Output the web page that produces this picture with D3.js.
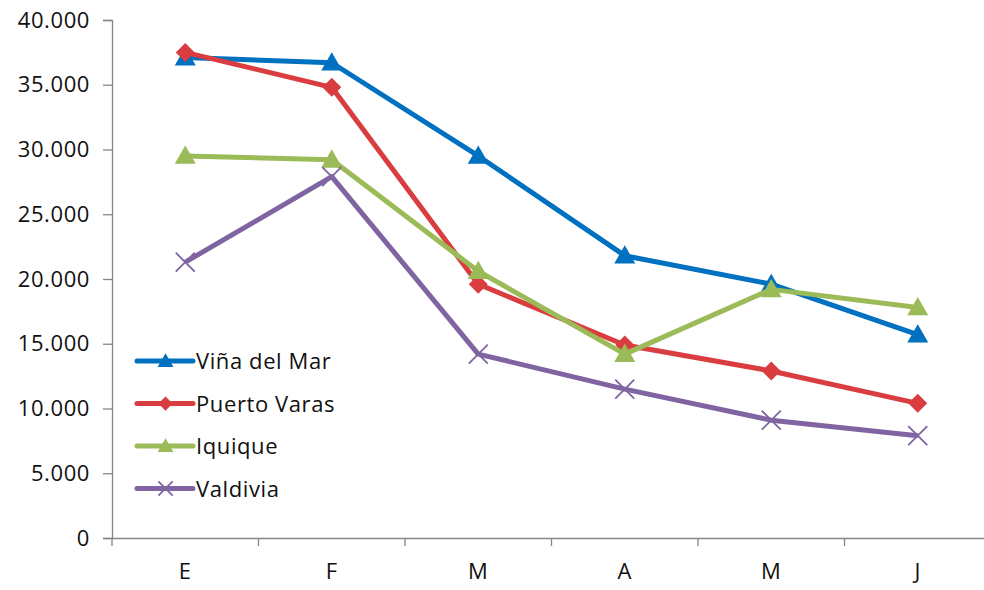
<!DOCTYPE html>
<html><head><meta charset="utf-8">
<script src="https://cdn.jsdelivr.net/npm/d3@7"></script>
<style>
body{margin:0;background:#fff;}
text{font-family:"Open Sans",sans-serif;fill:#111;letter-spacing:0.6px;}
</style></head>
<body><svg id="c" width="984" height="590"></svg>
<script>
const categories = ["E","F","M","A","M","J"];
const seriesNames = ["Viña del Mar","Puerto Varas","Iquique","Valdivia"];
const vinaDelMar = [37100,36700,29500,21800,19600,15700];
const puertoVaras = [37500,34800,19600,14900,12900,10400];
const iquique = [29500,29200,20600,14200,19200,17800];
const valdivia = [21300,27900,14200,11500,9100,7900];
const yTicks = [0,5000,10000,15000,20000,25000,30000,35000,40000];
const colors = ["#0070C0","#DA3D3F","#9BBB59","#8064A2"];
const markers = ["triangle","diamond","triangle","x"];

const svg = d3.select("#c");
const mLeft = 112, mRight = 991, mTop = 20, mBottom = 538;
const x = d3.scaleBand().domain(d3.range(categories.length)).range([mLeft,mRight]).padding(0);
const y = d3.scaleLinear().domain([0,40000]).range([mBottom,mTop]);
const fmt = v => v===0 ? "0" : d3.format(",")(v).replace(/,/g,".");
const FS = 22;

// Y axis
const ya = svg.append("g").attr("transform",`translate(${mLeft},0)`)
  .call(d3.axisLeft(y).tickValues(yTicks).tickSize(9).tickPadding(13).tickFormat(fmt));
ya.select(".domain").attr("stroke","#868686").attr("stroke-width",1.3);
ya.selectAll(".tick line").attr("stroke","#868686").attr("stroke-width",1.3);
ya.selectAll(".tick text").attr("font-size",FS).attr("font-family","Open Sans").attr("fill","#111");

// X axis
const xa = svg.append("g").attr("transform",`translate(0,${mBottom})`)
  .call(d3.axisBottom(x).tickFormat(i=>categories[i]).tickSize(0).tickPadding(25));
xa.select(".domain").attr("stroke","#868686").attr("stroke-width",1.3);
xa.selectAll(".tick text").attr("font-size",FS).attr("font-family","Open Sans").attr("fill","#111");
// boundary tick marks
const bounds = d3.range(categories.length+1).map(i => i<categories.length ? x(i) : x(categories.length-1)+x.bandwidth());
svg.append("g").selectAll("line").data(bounds).join("line")
  .attr("x1",d=>d).attr("x2",d=>d).attr("y1",mBottom).attr("y2",mBottom+8)
  .attr("stroke","#868686").attr("stroke-width",1.3);

const cx = i => x(i) + x.bandwidth()/2;
const data = [vinaDelMar, puertoVaras, iquique, valdivia];

function drawMarker(g, type, px, py, color, scale=1){
  if(type==="triangle"){
    const s = 10.5*scale;
    g.append("path").attr("d",`M${px},${py-s}L${px+s},${py+s*0.75}L${px-s},${py+s*0.75}Z`).attr("fill",color);
  } else if(type==="diamond"){
    const s = 9.5*scale;
    g.append("path").attr("d",`M${px},${py-s}L${px+s},${py}L${px},${py+s}L${px-s},${py}Z`).attr("fill",color);
  } else {
    const s = 9.5*scale;
    g.append("path").attr("d",`M${px-s},${py-s}L${px+s},${py+s}M${px-s},${py+s}L${px+s},${py-s}`)
      .attr("stroke",color).attr("stroke-width",1.8).attr("fill","none");
  }
}

const line = d3.line().x((d,i)=>cx(i)).y(d=>y(d));
data.forEach((vals,si)=>{
  const g = svg.append("g");
  g.append("path").attr("d",line(vals)).attr("fill","none").attr("stroke",colors[si])
    .attr("stroke-width",5).attr("stroke-linejoin","round");
  vals.forEach((v,i)=>drawMarker(g, markers[si], cx(i), y(v), colors[si]));
});

// Legend
const lg = svg.append("g");
seriesNames.forEach((n,i)=>{
  const ly = 361 + i*42.5;
  lg.append("line").attr("x1",137).attr("x2",193).attr("y1",ly).attr("y2",ly)
    .attr("stroke",colors[i]).attr("stroke-width",5).attr("stroke-linecap","round");
  drawMarker(lg, markers[i], 165.5, ly, colors[i], 0.75);
  lg.append("text").attr("x",196).attr("y",ly+8).attr("font-size",FS).text(n);
});
</script></body></html>
